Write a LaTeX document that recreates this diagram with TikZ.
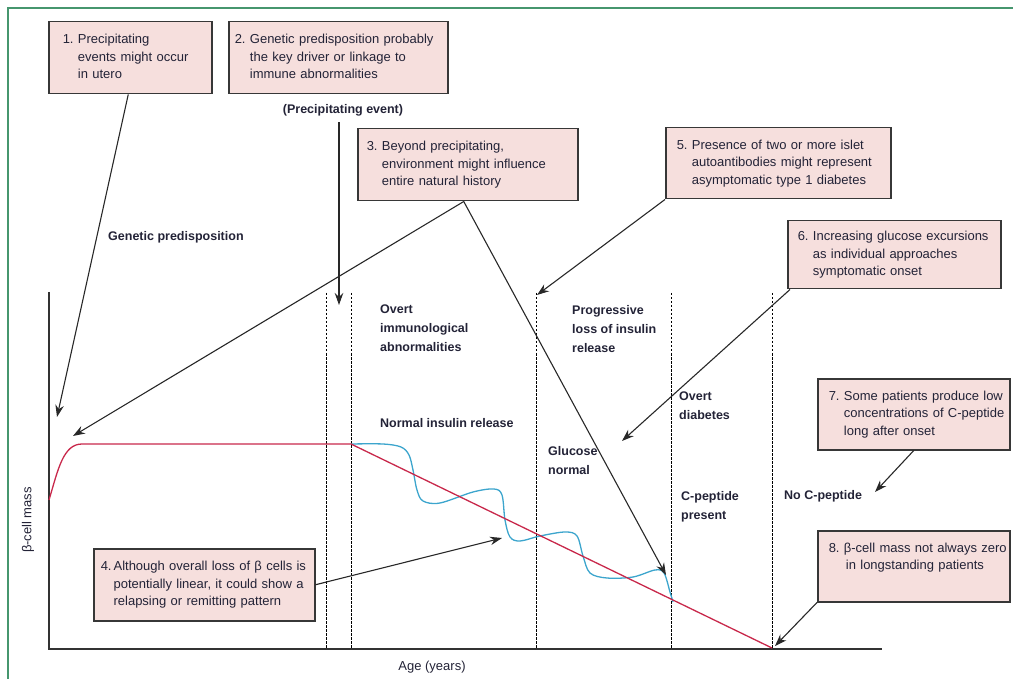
\documentclass[tikz,border=0pt]{standalone}
\usepackage{fontspec}
\setmainfont{Liberation Sans}
\usetikzlibrary{arrows.meta,calc}
\definecolor{txtc}{RGB}{35,35,55}
\definecolor{boxc}{RGB}{55,55,55}
\definecolor{boxf}{RGB}{246,223,221}
\definecolor{arrc}{RGB}{40,40,40}
\definecolor{axc}{RGB}{50,50,50}
\definecolor{redc}{RGB}{200,40,75}
\definecolor{bluec}{RGB}{60,165,205}
\definecolor{frame}{RGB}{70,150,110}
\newcommand\boxfont{\fontsize{13}{17.5}\selectfont}
\newcommand\lblfont{\fontsize{12.5}{19}\selectfont\bfseries}
\begin{document}
\begin{tikzpicture}[x=1pt,y=-1pt,
  box/.style={draw=boxc, fill=boxf, line width=1.5pt, anchor=north west, align=left, inner ysep=0pt, font=\boxfont, text=txtc},
  lbl/.style={anchor=north west, align=left, inner sep=0pt, font=\lblfont, text=txtc},
  plain/.style={inner sep=0pt, font=\boxfont, text=txtc},
  arr/.style={draw=arrc, line width=1.1pt, -{Stealth[length=12pt,width=8.5pt]}},
  vdash/.style={draw=black, line width=1pt, dash pattern=on 2.5pt off 1.5pt},
  axis/.style={draw=axc, line width=1.6pt},
]
\useasboundingbox (0,0) rectangle (1013,679);
% frame
\draw[frame, line width=2.2pt] (8,679) -- (8,8) -- (1013,8);

% axes
\coordinate (O) at (49,649);
\coordinate (ytop) at (49,292);
\coordinate (xend) at (882,649);
\draw[axis] (ytop) -- (O) -- (xend);

% dashed phase lines
\foreach \x/\n in {326/d1,351/d2,536/d3,671/d4,772/d5}{
  \coordinate (\n t) at (\x,293);
  \coordinate (\n b) at (\x,649);
  \draw[vdash] (\n t) -- (\n b);
}

% curves
\draw[bluec, line width=1.3pt] plot[smooth, tension=0.55] coordinates {
 (351,444) (383,444) (401,447) (409,455) (413,470) (417,490) (423,501) (440,503)
 (473,492) (494,489) (502,495) (505,520) (510,537) (520,541) (540,536) (565,532)
 (577,536) (583,556) (590,573) (607,578) (633,577) (655,570) (664,573) (670,592) (673,602)};
\draw[redc, line width=1.3pt] (49,500) .. controls (58,470) and (63,444) .. (82,444) -- (351,444) -- (772,648);

% boxes
\node[box, inner xsep=14pt, text width=135pt, minimum height=72pt] (b1) at (48,21)
 {\begin{tabular}{@{}l@{\ }l@{}}1.&Precipitating\\&events might occur\\&in utero\end{tabular}};
\node[box, inner xsep=6pt, text width=207pt, minimum height=72pt] (b2) at (228,21)
 {\begin{tabular}{@{}l@{\ }l@{}}2.&Genetic predisposition probably\\&the key driver or linkage to\\&immune abnormalities\end{tabular}};
\node[box, inner xsep=9pt, text width=202pt, minimum height=72pt] (b3) at (357,128)
 {\begin{tabular}{@{}l@{\ }l@{}}3.&Beyond precipitating,\\&environment might influence\\&entire natural history\end{tabular}};
\node[box, inner xsep=11pt, text width=203pt, minimum height=71pt] (b5) at (665,127)
 {\begin{tabular}{@{}l@{\ }l@{}}5.&Presence of two or more islet\\&autoantibodies might represent\\&asymptomatic type 1 diabetes\end{tabular}};
\node[box, inner xsep=10pt, text width=193pt, minimum height=68pt] (b6) at (787,220)
 {\begin{tabular}{@{}l@{\ }l@{}}6.&Increasing glucose excursions\\&as individual approaches\\&symptomatic onset\end{tabular}};
\node[box, inner xsep=11pt, text width=170pt, minimum height=71pt] (b7) at (817,378)
 {\begin{tabular}{@{}l@{\ }l@{}}7.&Some patients produce low\\&concentrations of C-peptide\\&long after onset\end{tabular}};
\node[box, inner xsep=11pt, text width=170pt, minimum height=71pt] (b8) at (817,530)
 {\begin{tabular}{@{}l@{\ }l@{}}8.&β-cell mass not always zero\\&\hspace{2pt}in longstanding patients\\&\mbox{}\end{tabular}};
\node[box, inner xsep=7pt, text width=207pt, minimum height=72pt] (b4) at (93,548)
 {\begin{tabular}{@{}l@{\kern2pt}l@{}}4.&Although overall loss of β cells is\\&potentially linear, it could show a\\&relapsing or remitting pattern\end{tabular}};

% labels
\node[lbl, anchor=center] (prec) at (343,110) {(Precipitating event)};
\node[lbl] (gen) at (108,231) {Genetic predisposition};
\node[lbl] (overt) at (380,305) {Overt\\immunological\\abnormalities};
\node[lbl] (normal) at (380,418) {Normal insulin release};
\node[lbl] (prog) at (572,305) {Progressive\\loss of insulin\\release};
\node[lbl] (gluc) at (548,446) {Glucose\\normal};
\node[lbl] (odiab) at (679,392) {Overt\\diabetes};
\node[lbl] (cpep) at (681,491) {C-peptide\\present};
\node[lbl] (nocpep) at (784,490) {No C-peptide};
\node[plain] (age) at (432,667) {Age (years)};
\node[plain, rotate=90] (bmass) at (28,520) {β-cell mass};

% arrow targets
\coordinate (t1) at (57,417);
\coordinate (tp) at (339,305);
\coordinate (t3a) at (73,436);
\coordinate (t3b) at (666,575);
\coordinate (t5) at (537,295);
\coordinate (t6) at (622,441);
\coordinate (t7) at (875,492);
\coordinate (t8) at (775,646);
\coordinate (t4) at (502,538);

\draw[arr] ($(b1.south)+(-2,0)$) -- (t1);
\draw[arr] ($(prec.south)+(-4,6)$) -- (tp);
\draw[arr] ($(b3.south)+(-4,0)$) -- (t3a);
\draw[arr] ($(b3.south)+(-4,0)$) -- (t3b);
\draw[arr] (b5.south west) -- (t5);
\draw[arr] ($(b6.south west)+(3,0)$) -- (t6);
\draw[arr] (b7.south) -- (t7);
\draw[arr] (b8.south west) -- (t8);
\draw[arr] (b4.east) -- (t4);
\end{tikzpicture}
\end{document}
